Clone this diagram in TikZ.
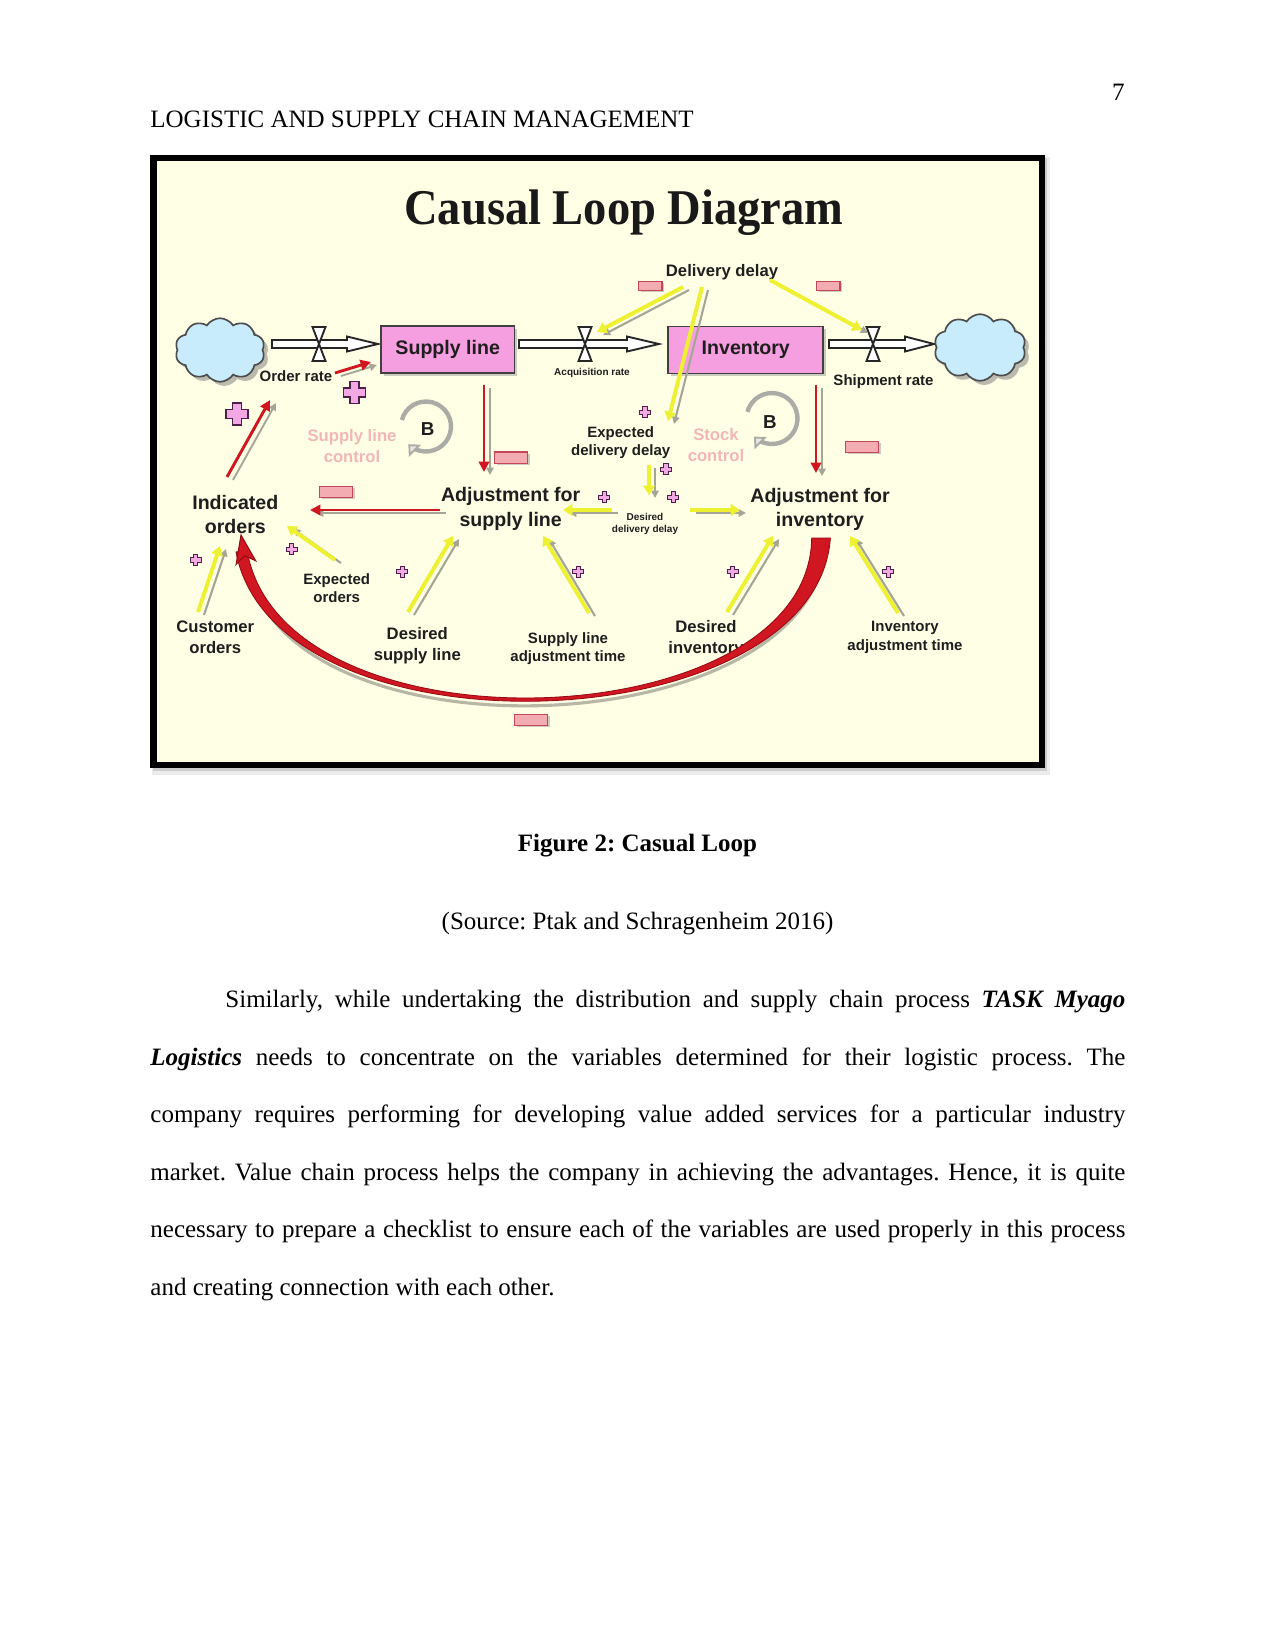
\documentclass[tikz,border=0pt]{standalone}
\usepackage{fontspec}
\setmainfont{Liberation Serif}
\newfontfamily\arialf{Liberation Sans}
\usepackage{graphicx}
\usetikzlibrary{arrows.meta,shapes.symbols,shadows,calc}

\definecolor{cream}{RGB}{255,255,229}
\definecolor{boxpink}{RGB}{245,158,224}
\definecolor{plusfill}{RGB}{242,168,226}
\definecolor{plusline}{RGB}{80,30,75}
\definecolor{minusfill}{RGB}{243,172,178}
\definecolor{minusline}{RGB}{196,70,88}
\definecolor{yel}{RGB}{238,240,50}
\definecolor{redc}{RGB}{208,22,32}
\definecolor{darkred}{RGB}{150,10,20}
\definecolor{shgray}{RGB}{165,165,150}
\definecolor{cloudblue}{RGB}{200,236,252}
\definecolor{txt}{RGB}{30,30,30}
\definecolor{pale}{RGB}{242,182,182}
\definecolor{ringgray}{RGB}{172,172,166}
\definecolor{ringlight}{RGB}{232,232,224}

\newcommand\FntBig{\arialf\bfseries\fontsize{9.4bp}{11.7bp}\selectfont}
\newcommand\FntMed{\arialf\bfseries\fontsize{8bp}{10.1bp}\selectfont}
\newcommand\FntSml{\arialf\bfseries\fontsize{7.2bp}{8.7bp}\selectfont}
\newcommand\FntTiny{\arialf\bfseries\fontsize{4.8bp}{5.9bp}\selectfont}
\newcommand\BodyFnt{\frenchspacing\fontsize{12bp}{27.6bp}\selectfont}

\newcommand\yarrow[2]{%
  \draw[yshad] ([shift={(6,3)}]#1) -- ([shift={(6,3)}]#2);
  \draw[yarr] (#1) -- (#2);}
\newcommand\rarrow[2]{%
  \draw[rshad] ([shift={(6,3)}]#1) -- ([shift={(6,3)}]#2);
  \draw[rarr] (#1) -- (#2);}
\newcommand\pipe[3]{%
  \draw[pipest] ([shift={(0,-4)}]#1) -- ([shift={(-#3,-4)}]#2) -- ([shift={(-#3,-7.5)}]#2) -- (#2)
     -- ([shift={(-#3,7.5)}]#2) -- ([shift={(-#3,4)}]#2) -- ([shift={(0,4)}]#1) -- cycle;}
\newcommand\valve[1]{%
  \draw[valvest] ([shift={(-6.5,-17)}]#1) -- ([shift={(6.5,-17)}]#1) -- ([shift={(-6.5,17)}]#1) -- ([shift={(6.5,17)}]#1) -- cycle;}

\tikzset{
 plusst/.style={draw=plusline, fill=plusfill, line width=0.7bp, line join=miter},
 bigplus/.pic={\draw[plusst] (-4.5,-11) -- (4.5,-11) -- (4.5,-4.5) -- (11,-4.5) -- (11,4.5) -- (4.5,4.5) -- (4.5,11) -- (-4.5,11) -- (-4.5,4.5) -- (-11,4.5) -- (-11,-4.5) -- (-4.5,-4.5) -- cycle;},
 smallplus/.pic={\draw[plusst, line width=0.5bp] (-2.2,-5.5) -- (2.2,-5.5) -- (2.2,-2.2) -- (5.5,-2.2) -- (5.5,2.2) -- (2.2,2.2) -- (2.2,5.5) -- (-2.2,5.5) -- (-2.2,2.2) -- (-5.5,2.2) -- (-5.5,-2.2) -- (-2.2,-2.2) -- cycle;}
}

\begin{document}
\begin{tikzpicture}[x=0.48bp,y=-0.48bp,
  yarr/.style={draw=yel, line width=1.9bp, -{Triangle[length=4.5bp,width=5.5bp]}},
  yshad/.style={draw=shgray, line width=1bp, -{Triangle[length=3.5bp,width=3.5bp]}},
  rarr/.style={draw=redc, line width=1.4bp, -{Triangle[length=5bp,width=5bp]}},
  rshad/.style={draw=shgray, line width=0.9bp, -{Triangle[length=3.5bp,width=3.5bp]}},
  pipest/.style={draw=black!85, fill=white, line width=0.9bp, line join=miter},
  valvest/.style={draw=black!85, fill=white, line width=0.9bp},
  cloudst/.style={cloud, cloud puffs=10, cloud puff arc=115, aspect=1.4, draw=black!70, fill=cloudblue,
     line width=0.8bp, inner sep=0pt, drop shadow={shadow xshift=2bp, shadow yshift=-2bp, fill=black!45, opacity=0.6}},
  stockbox/.style={draw=black!75, fill=boxpink, line width=0.8bp, inner sep=0pt, minimum width=64bp,
     minimum height=22.6bp, font=\FntBig, text=txt,
     drop shadow={shadow xshift=1.2bp, shadow yshift=-1.2bp, fill=black!40, opacity=0.5}},
  minussm/.style={draw=minusline, fill=minusfill, line width=0.5bp, minimum width=11.5bp, minimum height=4.3bp,
     inner sep=0pt, drop shadow={shadow xshift=1.2bp, shadow yshift=-0.8bp, fill=black!40, opacity=.5}},
  minuslg/.style={minussm, minimum width=15.5bp, minimum height=5.3bp},
  lbl/.style={inner sep=0pt, align=center, text=txt},
  palelbl/.style={inner sep=0pt, align=center, text=pale, font=\FntMed},
  ringst/.style={draw=ringgray, line width=2.1bp, -{Triangle[length=4.5bp, width=8bp, fill=ringlight, line width=0.9bp]}},
  body/.style={inner sep=0pt, font=\BodyFnt, text=black}
]
\useasboundingbox (0,0) rectangle (1275,1651);
\fill[white] (0,0) rectangle (1275,1651);

% ---------- page header ----------
\node[body, anchor=base east] (pnum) at (1125,100) {7};
\node[body, anchor=base west] (hdr) at (150,127.5) {LOGISTIC AND SUPPLY CHAIN MANAGEMENT};

% ---------- figure frame ----------
\fill[black!8] (152,157) rectangle (1050,775);
\fill[black!20] (153,158) rectangle (1047,771);
\draw[line width=2.9bp, fill=cream] (153.5,158) rectangle (1042,765);

\node[anchor=base, inner sep=0pt, text=black!90, font=\bfseries\fontsize{24bp}{24bp}\selectfont] (title) at (624,224.3)
  {\scalebox{0.93}[1]{Causal Loop Diagram}};

% ---------- stocks and flows ----------
\coordinate (p1s) at (272,344); \coordinate (p1e) at (378,344);
\coordinate (p2s) at (519,344); \coordinate (p2e) at (659,344);
\coordinate (p3s) at (829,344); \coordinate (p3e) at (934,344);
\coordinate (v1) at (319,344); \coordinate (v2) at (585,344); \coordinate (v3) at (873,344);

\pipe{p1s}{p1e}{31}
\pipe{p2s}{p2e}{32}
\pipe{p3s}{p3e}{29}
\valve{v1}
\valve{v2}
\valve{v3}

\node[cloudst, minimum width=43bp, minimum height=30.5bp] (cloudL) at (220,350) {};
\node[cloudst, minimum width=44bp, minimum height=32bp] (cloudR) at (980,347.5) {};
\node[stockbox] (sl) at (447.7,349.7) {Supply line};
\node[stockbox, minimum width=74.4bp] (inv) at (745.8,350) {Inventory};

% ---------- labels ----------
\node[lbl, font=\FntMed, anchor=base] (dd) at (722,276.7) {Delivery delay};
\node[lbl, font=\FntSml, anchor=base] (orate) at (296,381.3) {Order rate};
\node[lbl, font=\FntSml, anchor=base] (srate) at (883.5,385.3) {Shipment rate};
\node[lbl, font=\FntTiny, anchor=base] (arate) at (592,375.6) {Acquisition rate};
\node[lbl, font=\FntSml] (edd) at (620.7,443) {Expected\\delivery delay};
\node[lbl, font=\FntTiny] (desdd) at (645,524) {Desired\\delivery delay};
\node[lbl, font=\FntBig] (adjs) at (510.7,509) {Adjustment for\\supply line};
\node[lbl, font=\FntBig] (adji) at (820,509.7) {Adjustment for\\inventory};
\node[lbl, font=\FntBig] (ind) at (235.3,514.3) {Indicated\\orders};
\node[lbl, font=\FntMed] (cust) at (215.3,637.2) {Customer\\orders};
\node[lbl, font=\FntSml] (expo) at (336.7,588.5) {Expected\\orders};
\node[lbl, font=\FntMed] (dsl) at (417.3,645.5) {Desired\\supply line};
\node[lbl, font=\FntSml] (slat) at (568,648.2) {Supply line\\adjustment time};
\node[lbl, font=\FntMed] (dinv) at (706,638.6) {Desired\\inventory};
\node[lbl, font=\FntSml] (iat) at (905,637.4) {Inventory\\adjustment time};
\node[palelbl] (slc) at (352,445.7) {Supply line\\control};
\node[palelbl] (stc) at (716,445.5) {Stock\\control};

% ---------- balancing loops ----------
\coordinate (ringL) at (426,426.5);
\coordinate (ringR) at (772,418.5);
\draw[ringst] (ringL) ++(195:25) arc[start angle=195, end angle=495, radius=25];
\draw[ringst] (ringR) ++(195:25.5) arc[start angle=195, end angle=495, radius=25.5];
\node[lbl, font=\arialf\bfseries\fontsize{9bp}{9bp}\selectfont, anchor=base] (bL) at (427.7,435.7) {B};
\node[lbl, font=\arialf\bfseries\fontsize{9bp}{9bp}\selectfont, anchor=base] (bR) at (770,428.4) {B};

% ---------- yellow links ----------
\coordinate (y1s) at (683,287);  \coordinate (y1e) at (597,332);
\coordinate (y2s) at (702,287);  \coordinate (y2e) at (668,421);
\coordinate (y3s) at (770,280);  \coordinate (y3e) at (862,330);
\coordinate (y4s) at (649,465);  \coordinate (y4e) at (649,495);
\coordinate (y5s) at (612,510);  \coordinate (y5e) at (563,510);
\coordinate (y6s) at (690,510);  \coordinate (y6e) at (740,510);
\coordinate (y7s) at (198,612);  \coordinate (y7e) at (220,546);
\coordinate (y8s) at (335,560);  \coordinate (y8e) at (287,526);
\coordinate (y9s) at (408,612);  \coordinate (y9e) at (453,536);
\coordinate (y10s) at (589,613); \coordinate (y10e) at (543,536);
\coordinate (y11s) at (727,612); \coordinate (y11e) at (773,536);
\coordinate (y12s) at (898,613); \coordinate (y12e) at (850,536);
\yarrow{y1s}{y1e}
\yarrow{y2s}{y2e}
\yarrow{y3s}{y3e}
\yarrow{y4s}{y4e}
\yarrow{y5s}{y5e}
\yarrow{y6s}{y6e}
\yarrow{y7s}{y7e}
\yarrow{y8s}{y8e}
\yarrow{y9s}{y9e}
\yarrow{y10s}{y10e}
\yarrow{y11s}{y11e}
\yarrow{y12s}{y12e}

% ---------- red links ----------
\coordinate (r1s) at (335,373); \coordinate (r1e) at (371,362);
\coordinate (r2s) at (227,477); \coordinate (r2e) at (270,400);
\coordinate (r3s) at (484,385); \coordinate (r3e) at (484,472);
\coordinate (r4s) at (816,385); \coordinate (r4e) at (816,473);
\coordinate (r5s) at (440,510); \coordinate (r5e) at (310,510);
\rarrow{r1s}{r1e}
\rarrow{r2s}{r2e}
\rarrow{r3s}{r3e}
\rarrow{r4s}{r4e}
\rarrow{r5s}{r5e}

% big curved link: Adjustment for inventory -> Indicated orders
\coordinate (c6s) at (820,538);
\coordinate (c6e) at (241,535);
\draw[shgray, line width=1.5bp, opacity=0.8] (826,541) .. controls (818,746) and (284,766) .. (248,566);
\filldraw[fill=redc, draw=darkred, line width=0.4bp]
  ([xshift=-4]c6s) .. controls (809,739) and (282,759) .. (247,550)
  -- (236,552) .. controls (276,763) and (816,743) .. ([xshift=5]c6s) -- cycle;
\filldraw[fill=redc, draw=darkred, line width=0.5bp]
  (c6e) -- (255.7,560.8) -- (244.7,555.7) -- (236.1,564.4) -- cycle;

% ---------- polarity signs ----------
\node[minussm] (m1) at (650,286) {};
\node[minussm] (m2) at (828,286) {};
\node[minuslg] (m3) at (511,457.5) {};
\node[minuslg] (m4) at (336,492) {};
\node[minuslg] (m5) at (862,447) {};
\node[minuslg] (m6) at (531,720) {};

\pic at (354.5,392.5) {bigplus};
\pic at (237,414) {bigplus};
\pic at (645,412.3) {smallplus};
\pic at (666,469.3) {smallplus};
\pic at (673.3,497.3) {smallplus};
\pic at (604.3,497.3) {smallplus};
\pic at (195.7,560) {smallplus};
\pic at (291.7,549.3) {smallplus};
\pic at (402.3,571.7) {smallplus};
\pic at (578.3,571.7) {smallplus};
\pic at (732.7,571.7) {smallplus};
\pic at (888.3,571.7) {smallplus};

% ---------- caption ----------
\node[body, anchor=base] (cap) at (637.5,851) {\textbf{Figure 2: Casual Loop}};
\node[body, anchor=base] (src) at (637.5,929) {(Source: Ptak and Schragenheim 2016)};

% ---------- paragraph ----------
\node[body, anchor=base west] (l1) at (225,1007.5) {\makebox[432bp][s]{Similarly, while undertaking the distribution and supply chain process \textbf{\textit{TASK Myago}}}};
\node[body, anchor=base west] (l2) at (150,1065) {\makebox[468bp][s]{\textbf{\textit{Logistics}} needs to concentrate on the variables determined for their logistic process. The}};
\node[body, anchor=base west] (l3) at (150,1122.5) {\makebox[468bp][s]{company requires performing for developing value added services for a particular industry}};
\node[body, anchor=base west] (l4) at (150,1180) {\makebox[468bp][s]{market. Value chain process helps the company in achieving the advantages. Hence, it is quite}};
\node[body, anchor=base west] (l5) at (150,1237.5) {\makebox[468bp][s]{necessary to prepare a checklist to ensure each of the variables are used properly in this process}};
\node[body, anchor=base west] (l6) at (150,1295) {and creating connection with each other.};
\end{tikzpicture}
\end{document}
